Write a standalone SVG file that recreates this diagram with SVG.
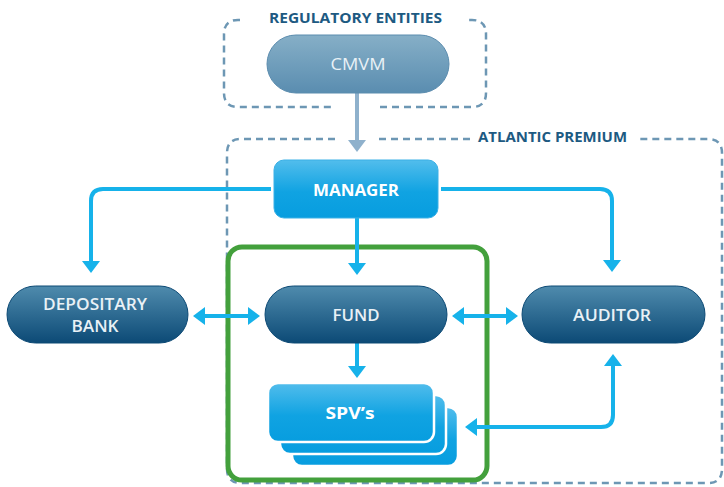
<svg xmlns="http://www.w3.org/2000/svg" width="724" height="487" viewBox="0 0 724 487">
<defs>
<linearGradient id="gDark" x1="0" y1="0" x2="0" y2="1">
<stop offset="0" stop-color="#4f8bad"/>
<stop offset="1" stop-color="#0c4a76"/>
</linearGradient>
<linearGradient id="gGray" x1="0" y1="0" x2="0" y2="1">
<stop offset="0" stop-color="#86afc7"/>
<stop offset="1" stop-color="#5a8db0"/>
</linearGradient>
<linearGradient id="gBlue" x1="0" y1="0" x2="0" y2="1">
<stop offset="0" stop-color="#52bdec"/>
<stop offset="0.55" stop-color="#10a3e2"/>
<stop offset="1" stop-color="#079ddf"/>
</linearGradient>
<marker id="ah" viewBox="0 0 12 18" refX="1" refY="9" markerWidth="12" markerHeight="18" markerUnits="userSpaceOnUse" orient="auto-start-reverse">
<path d="M0,0 L12,9 L0,18 z" fill="#16b2ea"/>
</marker>
<marker id="ahg" viewBox="0 0 12 18" refX="1" refY="9" markerWidth="12" markerHeight="18" markerUnits="userSpaceOnUse" orient="auto-start-reverse">
<path d="M0,0 L12,9 L0,18 z" fill="#8fb1cc"/>
</marker>
</defs>
<style>
.dash{fill:none;stroke:#6d97b4;stroke-width:2.5;stroke-dasharray:7 5}
.title{font-family:"Open Sans","Liberation Sans",sans-serif;font-weight:bold;font-size:13.5px;fill:#1d5a82}
.pill{fill:url(#gDark);stroke:#0d4a75;stroke-width:1}
.pt{font-family:"Open Sans","Liberation Sans",sans-serif;font-weight:600;font-size:16.5px;fill:#e9f1f6;text-anchor:middle}
.bt{font-family:"Open Sans","Liberation Sans",sans-serif;font-weight:bold;font-size:16.5px;fill:#ffffff;text-anchor:middle}
.box{fill:url(#gBlue);stroke:#3ab0e6;stroke-width:1}
.spv{fill:url(#gBlue);stroke:#ffffff;stroke-width:2.5}
.c{fill:none;stroke:#16b2ea;stroke-width:4}
</style>

<g id="regulatory-entities">
<path class="dash" d="M240 20 H238 Q224 20 224 34 V93 Q224 107 238 107 H335 M380 107 H472 Q486 107 486 93 V34 Q486 20 472 20 H469"/>
<text class="title" x="269" y="23" textLength="173" lengthAdjust="spacingAndGlyphs">REGULATORY ENTITIES</text>
</g>

<g id="atlantic-premium">
<path class="dash" d="M335 139 H241 Q227 139 227 153 V469 Q227 483 241 483 H708 Q722 483 722 469 V153 Q722 139 708 139 H636 M379 139 H470"/>
<text class="title" x="478" y="142" textLength="149" lengthAdjust="spacingAndGlyphs">ATLANTIC PREMIUM</text>
</g>

<g id="fund-boundary">
<rect x="228" y="247" width="259" height="233" rx="14" fill="none" stroke="#43a03c" stroke-width="5"/>
</g>

<g id="connectors">
<path d="M357 93 V141" fill="none" stroke="#8fb1cc" stroke-width="4" marker-end="url(#ahg)"/>
<path class="c" d="M271 189 H103 Q91 189 91 201 V262" marker-end="url(#ah)"/>
<path class="c" d="M441 189 H600 Q612 189 612 201 V261" marker-end="url(#ah)"/>
<path class="c" d="M357 218 V264" marker-end="url(#ah)"/>
<path class="c" d="M204 316 H249" marker-start="url(#ah)" marker-end="url(#ah)"/>
<path class="c" d="M463 316 H507" marker-start="url(#ah)" marker-end="url(#ah)"/>
<path class="c" d="M357 343 V367" marker-end="url(#ah)"/>
<path class="c" d="M476 427 H601 Q613 427 613 415 V365" marker-start="url(#ah)" marker-end="url(#ah)"/>
</g>

<g id="cmvm">
<rect x="267" y="35" width="182" height="58" rx="29" fill="url(#gGray)" stroke="#5b8cae" stroke-width="1"/>
<text class="pt" x="358" y="70" fill="#e6eef4" textLength="55" lengthAdjust="spacingAndGlyphs" style="font-weight:500">CMVM</text>
</g>

<g id="manager">
<rect class="box" x="274" y="160" width="164" height="58" rx="10"/>
<text class="bt" x="356" y="196" textLength="86" lengthAdjust="spacingAndGlyphs">MANAGER</text>
</g>

<g id="depositary-bank">
<rect class="pill" x="7" y="286" width="181" height="57" rx="28.5"/>
<text class="pt" x="95" y="310" textLength="104" lengthAdjust="spacingAndGlyphs">DEPOSITARY</text>
<text class="pt" x="95" y="332" textLength="47" lengthAdjust="spacingAndGlyphs">BANK</text>
</g>

<g id="fund">
<rect class="pill" x="265" y="286" width="182" height="57" rx="28.5"/>
<text class="pt" x="356" y="321" textLength="47" lengthAdjust="spacingAndGlyphs">FUND</text>
</g>

<g id="auditor">
<rect class="pill" x="522" y="286" width="183" height="57" rx="28.5"/>
<text class="pt" x="612" y="321" textLength="78" lengthAdjust="spacingAndGlyphs">AUDITOR</text>
</g>

<g id="spvs">
<rect class="spv" x="292" y="407" width="166" height="59" rx="10"/>
<rect class="spv" x="280" y="395" width="166" height="59" rx="10"/>
<rect class="spv" x="268" y="383" width="166" height="59" rx="10"/>
<text class="bt" x="350" y="419" textLength="49" lengthAdjust="spacingAndGlyphs">SPV’s</text>
</g>
</svg>
